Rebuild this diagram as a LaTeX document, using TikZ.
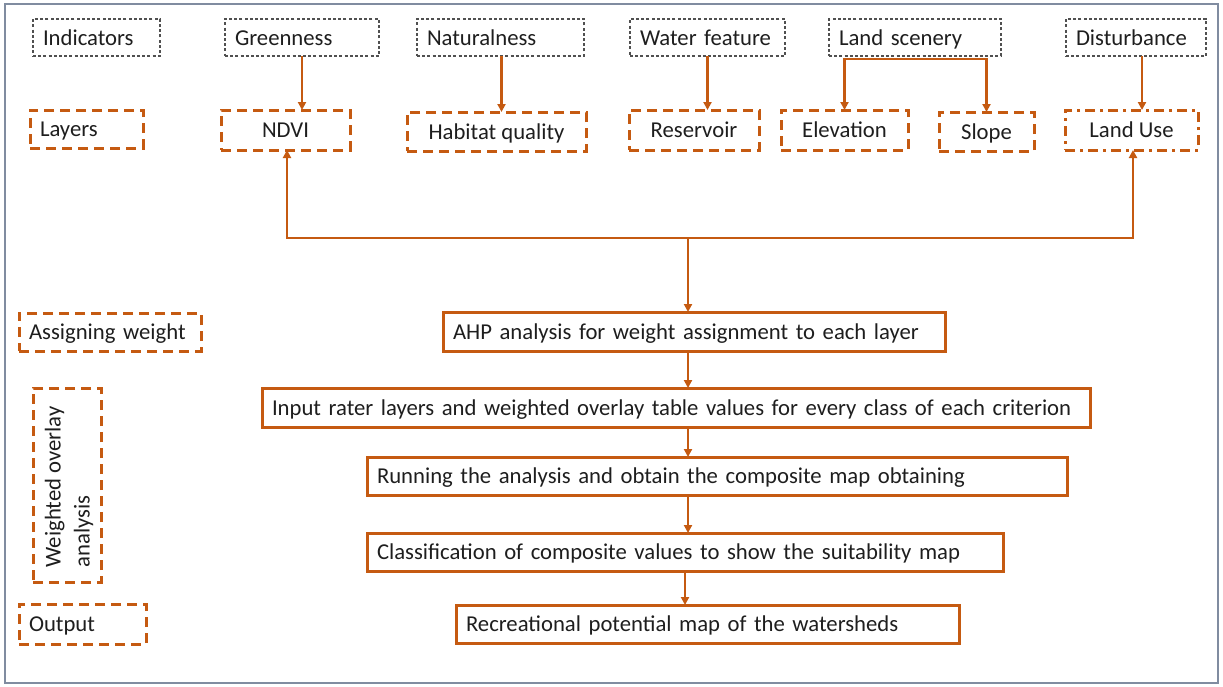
\documentclass[tikz,border=0pt]{standalone}
\usepackage{fontspec}
\setmainfont{Carlito}
\usetikzlibrary{arrows.meta,calc}
\definecolor{orng}{RGB}{197,90,17}
\definecolor{dgray}{RGB}{80,80,80}
\definecolor{frm}{RGB}{128,140,160}
\definecolor{txt}{RGB}{30,30,30}
\begin{document}
\begin{tikzpicture}[x=1pt,y=-1pt,
  every node/.style={font=\fontsize{22.7}{27}\selectfont, text=txt, inner ysep=0pt, outer sep=0pt},
  tb/.style={text height=18.5pt, text depth=3pt},
  indbox/.style={tb, draw=dgray, line width=1.4pt, dash pattern=on 3pt off 2.2pt, anchor=north west, inner xsep=10pt, align=left},
  laybox/.style={tb, draw=orng, line width=3pt, dash pattern=on 10pt off 6pt, anchor=north west, inner xsep=0pt, align=center},
  laylbox/.style={tb, draw=orng, line width=3pt, dash pattern=on 10pt off 6pt, anchor=north west, inner xsep=10pt, align=left},
  mainbox/.style={tb, draw=orng, line width=3pt, anchor=north west, inner xsep=10pt, align=left},
  conn/.style={draw=orng, line width=2.7pt},
  arr/.style={conn, -{Triangle[length=8pt,width=8pt]}}
]
\useasboundingbox (0,0) rectangle (1223,686);
\draw[frm, line width=1.8pt] (5,4) rectangle (1218,683);

% indicators row
\node[indbox, text width=107pt, minimum height=37pt] (ind) at (33,19) {Indicators};
\node[indbox, text width=134pt, minimum height=37pt] (gre) at (225,19) {Greenness};
\node[indbox, text width=147pt, minimum height=37pt] (nat) at (417,19) {Naturalness};
\node[indbox, text width=135pt, minimum height=37pt] (wat) at (630,19) {Water feature};
\node[indbox, text width=152pt, minimum height=37pt] (lan) at (829,19) {Land scenery};
\node[indbox, text width=120pt, minimum height=37pt] (dis) at (1066,19) {Disturbance};

% layers row
\node[laylbox, text width=93pt, minimum height=38pt] (lay) at (30,110) {Layers};
\node[laybox, minimum width=129pt, minimum height=40pt] (ndvi) at (221,110) {NDVI};
\node[laybox, minimum width=179pt, minimum height=39pt] (hab) at (407,112) {Habitat quality};
\node[laybox, minimum width=130pt, minimum height=40pt] (res) at (629,110) {Reservoir};
\node[laybox, minimum width=127pt, minimum height=40pt] (ele) at (781,110) {Elevation};
\node[laybox, minimum width=95pt, minimum height=39pt] (slo) at (939,112) {Slope};
\node[laybox, dash pattern=on 10pt off 5pt on 3pt off 5pt, minimum width=133pt, minimum height=40pt] (lu) at (1065,110) {Land Use};

% left column
\node[laylbox, text width=162pt, minimum height=38pt] (asg) at (19,313) {Assigning weight};
\node[laybox, minimum width=68pt, minimum height=194pt] (wov) at (33,388) {};
\node[rotate=90, align=left, font=\fontsize{22.7}{29}\selectfont] (wovt) at ([xshift=2pt,yshift=-2pt]wov.center) {Weighted overlay\\analysis};
\node[laylbox, text width=107pt, minimum height=40pt] (out) at (19,604) {Output};

% main boxes
\node[mainbox, text width=482pt, minimum height=39pt] (ahp) at (443,312) {AHP analysis for weight assignment to each layer};
\node[mainbox, text width=808pt, minimum height=39pt] (inp) at (262,388) {Input rater layers and weighted overlay table values for every class of each criterion};
\node[mainbox, text width=680pt, minimum height=38pt] (run) at (367,457) {Running the analysis and obtain the composite map obtaining};
\node[mainbox, text width=616pt, minimum height=38pt] (cla) at (367,533) {Classification of composite values to show the suitability map};
\node[mainbox, text width=483pt, minimum height=38pt] (rec) at (456,605) {Recreational potential map of the watersheds};

% indicator -> layer arrows
\draw[arr] (gre.south) -- (gre.south |- ndvi.north);
\draw[arr] ([xshift=1pt]nat.south) -- ([xshift=1pt]nat.south |- hab.north);
\draw[arr] (wat.south) -- (wat.south |- res.north);
\coordinate (lj) at ([yshift=-3pt]lan.south);
\draw[conn] ([xshift=-1.35pt]lj -| ele.north) -- ([xshift=1.35pt]lj -| slo.north);
\draw[arr] (lj -| ele.north) -- (ele.north);
\draw[arr] (lj -| slo.north) -- (slo.north);
\draw[arr] ([xshift=6pt]dis.south) -- ([xshift=6pt]dis.south |- lu.north);

% bottom collector
\coordinate (ax) at (688,238);
\draw[arr] (ax) -| ([xshift=1.5pt]ndvi.south);
\draw[arr] (ax) -| ([xshift=1.5pt]lu.south);
\draw[arr] (ax) -- (ax |- ahp.north);

% main chain
\draw[arr] (ax |- ahp.south) -- (ax |- inp.north);
\draw[arr] (ax |- inp.south) -- (ax |- run.north);
\draw[arr] (ax |- run.south) -- (ax |- cla.north);
\draw[arr] (cla.south) -- (cla.south |- rec.north);
\end{tikzpicture}
\end{document}
